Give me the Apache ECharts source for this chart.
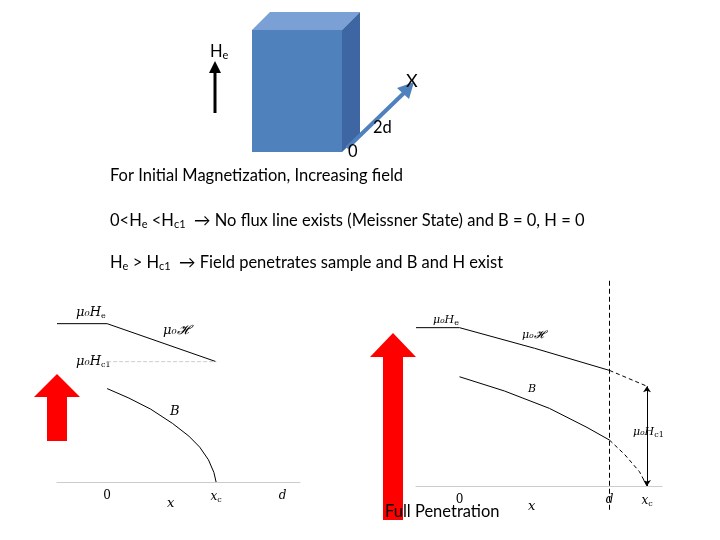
<!DOCTYPE html>
<html><head><meta charset="utf-8">
<script src="https://cdn.jsdelivr.net/npm/echarts@6/dist/echarts.min.js"></script>
<style>html,body{margin:0;background:#fff}#c{width:720px;height:540px}</style>
</head><body><div id="c"></div>
<script>
// left plot: partial penetration (x in units of xc)
const leftHe = [[-0.46, 1], [0, 1]];
const leftH = [[0, 1], [1, 0.76]];
const leftHc1 = [[0, 0.76], [1, 0.76]];
const leftB = [[0, 0.59], [0.2, 0.53], [0.4, 0.46], [0.6, 0.37], [0.75, 0.29], [0.85, 0.22], [0.93, 0.14], [0.98, 0.06], [1, 0]];
const leftTicks = [0, 1, 1.61];
const leftTickLabels = ['0', '{i|x}{s|c}', '{i|d}'];
// right plot: full penetration (x in units of d)
const rightHe = [[-0.29, 1], [0, 1]];
const rightH = [[0, 1], [0.5, 0.87], [1, 0.73]];
const rightHout = [[1, 0.73], [1.25, 0.63]];
const rightB = [[0, 0.69], [0.3, 0.6], [0.6, 0.49], [0.85, 0.37], [1, 0.29]];
const rightBout = [[1, 0.29], [1.1, 0.2], [1.2, 0.09], [1.25, 0]];
const rightTicks = [0, 1, 1.25];
const rightTickLabels = ['0', '{i|d}', '{i|x}{s|c}'];

const serif = 'italic 13px "DejaVu Serif", serif';
const line = (gi, data, extra) => Object.assign({
  type: 'line', xAxisIndex: gi, yAxisIndex: gi, data, symbol: 'none', silent: true,
  lineStyle: { color: '#000', width: 1 }
}, extra || {});
const xax = (gi, min, max, ticks, labels) => ({
  type: 'value', gridIndex: gi, min, max,
  axisLine: { onZero: false, lineStyle: { color: '#ccc' } },
  axisTick: { show: false }, splitLine: { show: false },
  axisLabel: { customValues: ticks, margin: 8, color: '#000', fontFamily: 'DejaVu Serif', fontSize: 12,
    formatter: v => labels[ticks.indexOf(v)] || '',
    rich: { i: { fontStyle: 'italic', fontSize: 12, fontFamily: 'DejaVu Serif' }, s: { fontSize: 8, fontFamily: 'DejaVu Serif', padding: [6, 0, 0, 0] } } }
});
const yax = gi => ({ type: 'value', gridIndex: gi, min: 0, max: 1.2, show: false });

const t = (x, y, text, font, rich) => ({ type: 'text', x, y, style: { text, font: font || '16.5px Lato, sans-serif', fill: '#000', rich } });
const sub = { s: { fontSize: 11, fontFamily: 'Lato', padding: [8, 0, 0, 0] } };
const mrich = { s: { fontSize: 8, fontFamily: 'DejaVu Serif', padding: [6, 0, 0, 0] } };

const chart = echarts.init(document.getElementById('c'));
chart.setOption({
  animation: false,
  grid: [
    { left: 57, width: 243, top: 292, height: 190 },
    { left: 416, width: 246, top: 296, height: 190 }
  ],
  xAxis: [xax(0, -0.46, 1.77, leftTicks, leftTickLabels), xax(1, -0.29, 1.35, rightTicks, rightTickLabels)],
  yAxis: [yax(0), yax(1)],
  series: [
    line(0, leftHe), line(0, leftH),
    line(0, leftHc1, { lineStyle: { color: '#ccc', width: 1, type: 'dashed' } }),
    line(0, leftB),
    line(1, rightHe), line(1, rightH), line(1, rightHout, { lineStyle: { color: '#000', width: 1, type: [4, 3] } }),
    line(1, rightB), line(1, rightBout, { lineStyle: { color: '#000', width: 1, type: [4, 3] } }),
    line(1, [[1, -0.15], [1, 1.3]], { clip: false, lineStyle: { color: '#000', width: 1, type: [5, 3] },
      markLine: { symbol: ['arrow', 'arrow'], symbolSize: 6, silent: true, label: { show: false },
        lineStyle: { color: '#000', width: 1, type: 'solid' },
        data: [[{ coord: [1.25, 0.63] }, { coord: [1.25, 0] }]] } })
  ],
  graphic: [
    // cube
    { type: 'polygon', shape: { points: [[252, 30], [270, 12], [360, 12], [342, 30]] }, style: { fill: '#7aa0d6' } },
    { type: 'polygon', shape: { points: [[342, 30], [360, 12], [360, 135], [342, 152]] }, style: { fill: '#3d66a3' } },
    { type: 'rect', shape: { x: 252, y: 30, width: 90, height: 122 }, style: { fill: '#4f81bd' } },
    // 2d arrow
    { type: 'line', shape: { x1: 347, y1: 148, x2: 405, y2: 92 }, style: { stroke: '#4f81bd', lineWidth: 4 } },
    { type: 'polygon', shape: { points: [[414, 82], [397, 88], [409, 99]] }, style: { fill: '#4f81bd' } },
    // He arrow
    { type: 'line', shape: { x1: 215, y1: 113, x2: 215, y2: 70 }, style: { stroke: '#000', lineWidth: 3 } },
    { type: 'polygon', shape: { points: [[215, 61], [209, 73], [221, 73]] }, style: { fill: '#000' } },
    // red arrows
    { type: 'polygon', shape: { points: [[47, 441], [67, 441], [67, 397], [80, 397], [57, 374], [34, 397], [47, 397]] }, style: { fill: '#ff0000' } },
    { type: 'polygon', shape: { points: [[383, 520], [403, 520], [403, 357], [416, 357], [393, 333], [370, 357], [383, 357]] }, style: { fill: '#ff0000' } },
    t(210, 42, 'H{s|e}', null, sub),
    t(406, 72, 'X', '18px Lato, sans-serif'),
    t(373, 119, '2d'),
    t(348, 143, '0'),
    t(110, 167, 'For Initial Magnetization, Increasing field'),
    t(110, 211, '0<H{s|e} <H{s|c1}  \u2192 No flux line exists (Meissner State) and B = 0, H = 0', null, sub),
    t(110, 253, 'H{s|e} > H{s|c1}  \u2192 Field penetrates sample and B and H exist', null, sub),
    t(385, 503, 'Full Penetration'),
    // math labels left
    t(76, 306, 'μ₀H{s|e}', serif, mrich),
    t(163, 324, 'μ₀𝓗', serif),
    t(76, 355, 'μ₀H{s|c1}', serif, mrich),
    t(170, 405, 'B', serif),
    t(167, 497, 'x', serif),
    // math labels right
    t(433, 313, 'μ₀H{s|e}', 'italic 11px "DejaVu Serif", serif', mrich),
    t(522, 330, 'μ₀𝓗', 'italic 11px "DejaVu Serif", serif'),
    t(528, 384, 'B', 'italic 11px "DejaVu Serif", serif'),
    t(633, 425, 'μ₀H{s|c1}', 'italic 11px "DejaVu Serif", serif', mrich),
    t(528, 500, 'x', serif)
  ]
});
</script></body></html>
